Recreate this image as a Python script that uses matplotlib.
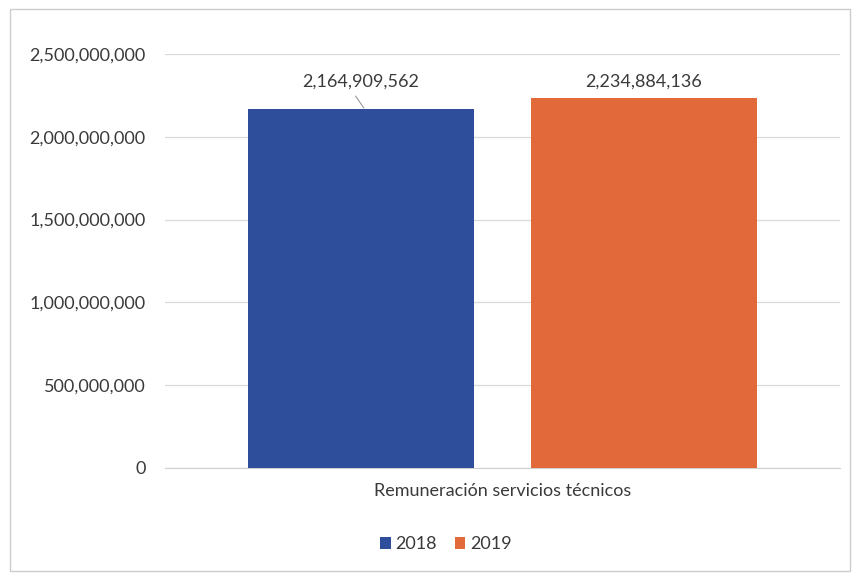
import matplotlib.pyplot as plt
from matplotlib.patches import Rectangle
from matplotlib.ticker import FuncFormatter

# data
category = 'Remuneración servicios técnicos'
years = ['2018', '2019']
values = [2164909562, 2234884136]
colors = ['#2E4E9C', '#E2693A']

plt.rcParams['font.family'] = ['Lato', 'DejaVu Sans']

fig = plt.figure(figsize=(8.57, 5.74), dpi=100)
ax = fig.add_axes([0.1925, 0.1847, 0.7875, 0.7213])

width = 0.335
offsets = [-0.2095, 0.2095]
for yr, val, off, col in zip(years, values, offsets, colors):
    ax.bar(off, val, width=width, color=col, label=yr, zorder=3)

# value labels (both at the same height, like the original)
label_y = 2.33e9
for val, off in zip(values, offsets):
    ax.text(off, label_y, '{:,}'.format(val), ha='center', va='center',
            fontsize=13, color='#3A3A3A')
# leader line for the first label
ax.plot([offsets[0] - 0.008, offsets[0] + 0.004], [2.245e9, 2.175e9],
        color='#999999', lw=0.8, zorder=4)

ax.set_xlim(-0.5, 0.5)
ax.set_ylim(0, 2.5e9)
ax.set_yticks([0, 5e8, 1e9, 1.5e9, 2e9, 2.5e9])
ax.yaxis.set_major_formatter(FuncFormatter(lambda v, p: '{:,.0f}'.format(v)))
ax.set_xticks([0])
ax.set_xticklabels([category])
ax.tick_params(axis='both', length=0, labelsize=13, labelcolor='#3A3A3A')
ax.tick_params(axis='y', pad=14)
ax.tick_params(axis='x', pad=11)
ax.grid(axis='y', color='#D9D9D9', lw=0.9, zorder=0)
for s in ['top', 'right', 'left']:
    ax.spines[s].set_visible(False)
ax.spines['bottom'].set_color('#D0D0D0')

fig.legend(loc='center', bbox_to_anchor=(0.52, 0.052), ncol=2, frameon=False,
           fontsize=13, handlelength=0.6, handleheight=0.6, handletextpad=0.25,
           columnspacing=1.0, labelcolor='#3A3A3A')

# outer chart border
fig.patches.append(Rectangle((0.012, 0.005), 0.98, 0.98, transform=fig.transFigure,
                             fill=False, edgecolor='#CCCCCC', lw=1))

fig.savefig('out.png', dpi=100)
